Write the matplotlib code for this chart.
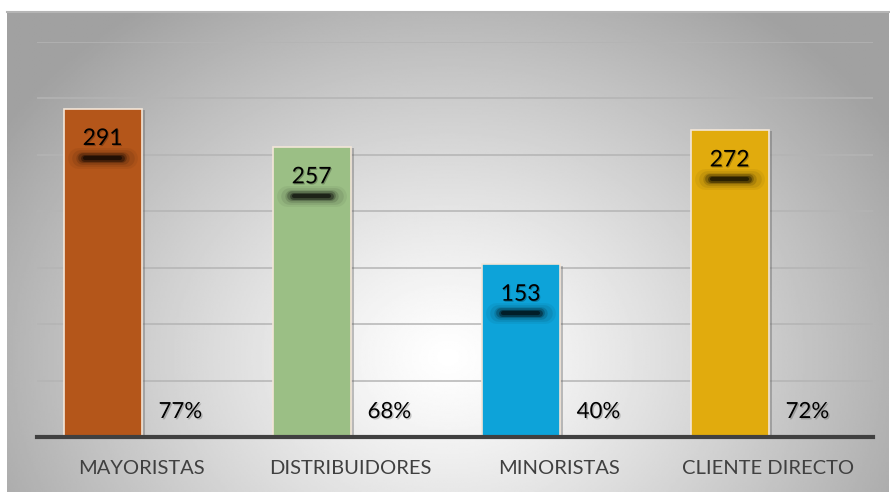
import numpy as np
import matplotlib
matplotlib.use("Agg")
import matplotlib.pyplot as plt
import matplotlib.patheffects as pe
from matplotlib.transforms import offset_copy

plt.rcParams['font.family'] = ['Lato', 'DejaVu Sans']

# Datos
categorias = ["MAYORISTAS", "DISTRIBUIDORES", "MINORISTAS", "CLIENTE DIRECTO"]
cantidades = [291, 257, 153, 272]
porcentajes = ["77%", "68%", "40%", "72%"]
colores = ["#B4561A", "#9BBF85", "#0DA3D9", "#E1AB0D"]

fig = plt.figure(figsize=(8.9, 4.92), dpi=100)

# Fondo con degradado radial
bg = fig.add_axes([7 / 890, 0, 882 / 890, 480 / 492])
yy, xx = np.mgrid[0:1:300j, 0:1:500j]
r = np.sqrt(((xx - 0.5) / 0.6) ** 2 + ((yy - 0.28) / 0.9) ** 2)
val = 1 - 0.37 * np.clip(r, 0, 1) ** 1.2
bg.imshow(val, cmap="gray", vmin=0, vmax=1, origin="lower",
          extent=[0, 1, 0, 1], aspect="auto")
bg.set_xticks([])
bg.set_yticks([])
for s in ["left", "right", "bottom"]:
    bg.spines[s].set_visible(False)
bg.spines["top"].set_color("#b5b5b5")
bg.spines["top"].set_linewidth(1.5)

ax = fig.add_axes([37 / 890, 55 / 492, 836 / 890, 395 / 492])
ax.patch.set_alpha(0)
x = np.arange(len(categorias))
w = 0.373

ax.set_ylim(0, 350)
ax.set_xlim(-0.5, 3.5)
ax.set_yticks(np.arange(50, 351, 50))
ax.grid(axis="y", color="#b4b4b4", linewidth=1.1, zorder=0)
ax.set_axisbelow(True)
ax.tick_params(left=False, labelleft=False, bottom=False)
for s in ["left", "right", "top"]:
    ax.spines[s].set_visible(False)
ax.spines["bottom"].set_color("#404040")
ax.spines["bottom"].set_linewidth(3)
ax.spines["bottom"].set_zorder(5)

barras = ax.bar(x - w / 2, cantidades, w, color=colores, edgecolor="#f3e6d8",
                linewidth=1.2, zorder=3)
for b in barras:
    b.set_path_effects([pe.SimplePatchShadow(offset=(2.5, -1), shadow_rgbFace="#555555", alpha=0.35),
                        pe.Normal()])

ax.set_xticks(x)
ax.set_xticklabels(categorias, fontsize=14.5, color="#404040")
ax.tick_params(axis="x", pad=13)

# Etiquetas de valores con sombra
sombra = offset_copy(ax.transData, fig=fig, x=0, y=-49, units="dots")
for xi, v in zip(x - w / 2, cantidades):
    ax.annotate(str(v), (xi, v), xytext=(0, -21.5), textcoords="offset points",
                ha="center", va="center", fontsize=16.5, color="black", zorder=6,
                path_effects=[pe.withSimplePatchShadow(offset=(0.8, -0.8), alpha=0.25)])
    for lw, a, hw in [(15, 0.05, 0.115), (12, 0.08, 0.11), (9, 0.13, 0.10),
                      (7, 0.22, 0.095), (5, 0.35, 0.09), (3, 0.5, 0.085)]:
        ax.plot([xi - hw, xi + hw], [v, v], color="black", lw=lw, alpha=a,
                solid_capstyle="round", transform=sombra, zorder=4)

# Porcentajes
for xi, p in zip(x + w / 2, porcentajes):
    ax.annotate(p, (xi, 0), xytext=(0, 18), textcoords="offset points",
                ha="center", va="center", fontsize=16, color="black", zorder=6,
                path_effects=[pe.withSimplePatchShadow(offset=(1, -1), alpha=0.2)])

fig.savefig("out.png", dpi=100)
